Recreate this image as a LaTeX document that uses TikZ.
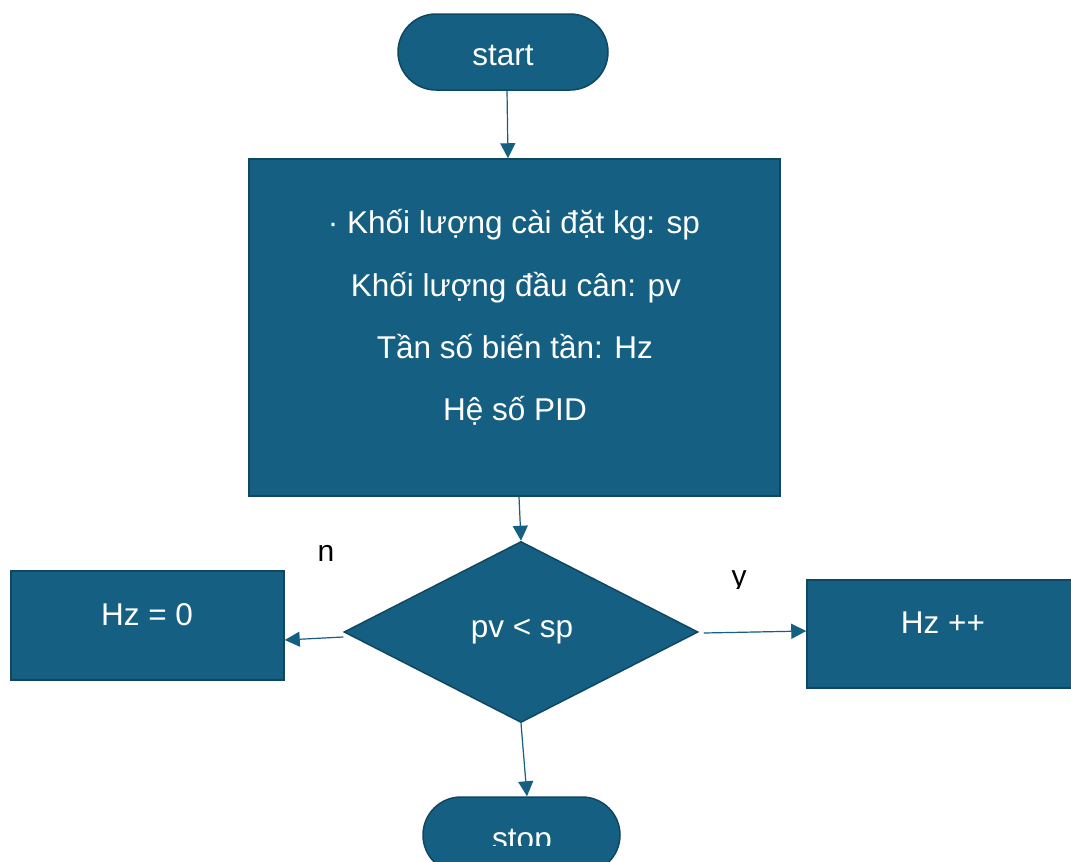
\documentclass[tikz,border=0pt]{standalone}
\usepackage{fontspec}
\setmainfont{Liberation Sans}
\usetikzlibrary{shapes.geometric,arrows.meta,calc}
\definecolor{fillc}{HTML}{156082}
\definecolor{edgec}{HTML}{0F4761}
\tikzset{
  blk/.style={draw=edgec,line width=1.5pt,fill=fillc,inner sep=0pt,rectangle},
  capsule/.style={blk,rounded corners=38pt,minimum width=210pt,minimum height=76pt},
  dia/.style={blk,diamond,minimum width=354pt,minimum height=181pt},
  txt/.style={text=white,font=\fontsize{31.5pt}{36pt}\selectfont,inner sep=0pt},
  lbl/.style={text=black,font=\fontsize{30pt}{34pt}\selectfont,inner sep=0pt},
  arr/.style={draw=fillc,line width=1.2pt,-{Triangle[length=15pt,width=15pt]},fill=fillc}
}
\begin{document}
\begin{tikzpicture}[x=1pt,y=-1pt]
\useasboundingbox (0,0) rectangle (1071,862);
\clip (0,0) rectangle (1071,862);
% start
\node[capsule] (start) at (503,52) {};
\node[txt,anchor=base] (starttxt) at (503,65) {start};
% big box
\node[blk,minimum width=531pt,minimum height=337pt] (box) at (514.5,327.5) {};
\node[txt,anchor=base] (l1) at (514,233) {· Khối lượng cài đặt kg: sp};
\node[txt,anchor=base] (l2) at (516,296) {Khối lượng đầu cân: pv};
\node[txt,anchor=base] (l3) at (515,358) {Tần số biến tần: Hz};
\node[txt,anchor=base] (l4) at (515,420) {Hệ số PID};
% decision
\node[dia] (dec) at (521,632) {};
\node[txt,anchor=base] (dectxt) at (522,637) {pv < sp};
% left box
\node[blk,minimum width=273pt,minimum height=109pt] (hz0) at (147.5,625.5) {};
\node[txt,anchor=base] (hz0txt) at (147,625) {Hz = 0};
% right box
\node[blk,minimum width=280pt,minimum height=108pt] (hzp) at (947,634) {};
\node[txt,anchor=base] (hzptxt) at (943,633) {Hz ++};
% stop
\node[capsule,minimum width=197pt] (stop) at (521.5,835) {};
\begin{scope}
\clip (0,0) rectangle (1071,845);
\node[txt,anchor=base] (stoptxt) at (522,849) {stop};
\end{scope}
% labels
\node[lbl,anchor=base] (n) at (326,561) {n};
\begin{scope}
\clip (700,540) rectangle (780,588);
\node[lbl,anchor=base] (y) at (739,586) {y};
\end{scope}
% arrows
\draw[arr] ($(start.south)+(4,0)$) -- ($(box.north)+(-6.5,0)$);
\draw[arr] ($(box.south)+(4.5,0)$) -- (dec.north);
\draw[arr] ($(dec.west)+(0,5)$) -- ($(hz0.east)+(0,14.5)$);
\draw[arr] ($(dec.east)+(5,1)$) -- ($(hzp.west)+(0,-3)$);
\draw[arr] (dec.south) -- ($(stop.north)+(5.5,0)$);
\end{tikzpicture}
\end{document}
